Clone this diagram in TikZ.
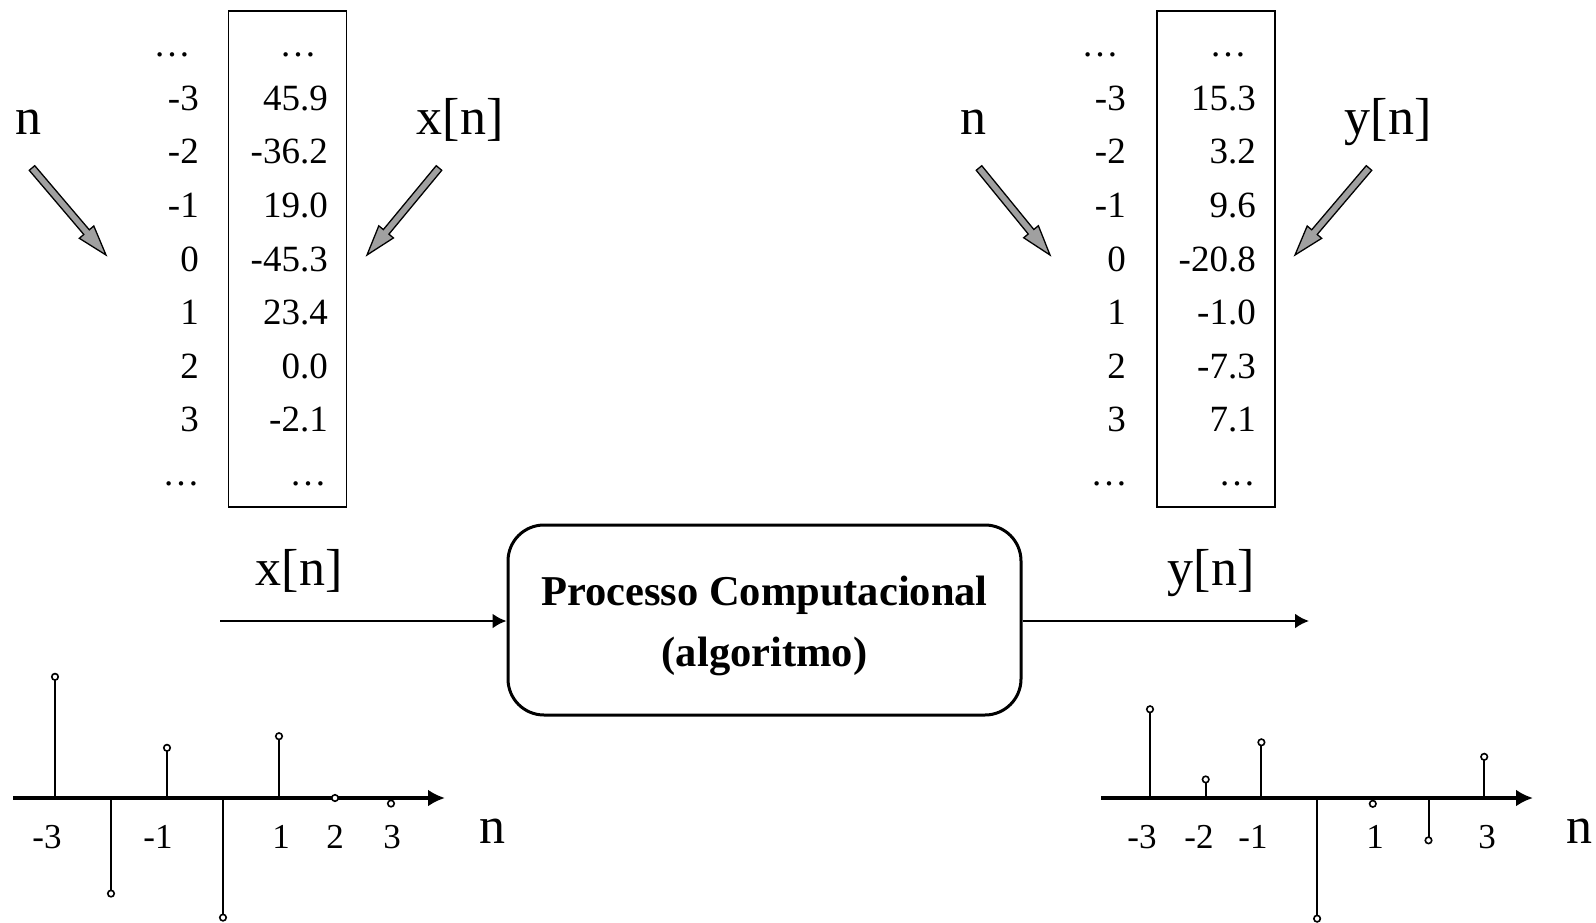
\documentclass[tikz,border=0pt]{standalone}
\usepackage{fontspec}
\setmainfont{Liberation Serif}
\usetikzlibrary{arrows.meta,calc}
\definecolor{arrgray}{RGB}{160,160,160}
\newcommand\fatarrow[2]{%
  \coordinate (#1m) at ($(#2)!30pt!(#1)$);
  \filldraw[fill=arrgray, draw=black, line width=1.3pt, line join=miter]
    ($(#1)!3.6pt!90:(#2)$) -- ($(#1m)!3.6pt!90:(#2)$) -- ($(#1m)!9.5pt!90:(#2)$)
    -- (#2) -- ($(#1m)!9.5pt!-90:(#2)$) -- ($(#1m)!3.6pt!-90:(#2)$)
    -- ($(#1)!3.6pt!-90:(#2)$) -- cycle;}
\begin{document}
\begin{tikzpicture}[x=1pt,y=-1pt,
  num/.style={font=\fontsize{37}{42}\selectfont, inner sep=0pt, anchor=base east},
  dotrow/.style={font=\fontsize{37}{42}\selectfont, inner sep=0pt, anchor=base},
  lab/.style={font=\fontsize{35}{40}\selectfont, inner sep=0pt, anchor=base},
  big/.style={font=\fontsize{52}{60}\selectfont, inner sep=0pt, anchor=base},
  tab/.style={draw, line width=1.5pt, inner sep=0pt, minimum width=118pt, minimum height=496pt},
  proc/.style={draw, line width=3pt, rounded corners=36pt, minimum width=513pt, minimum height=190pt},
  proctext/.style={align=center, inner sep=0pt, font=\bfseries\fontsize{42.5}{61}\selectfont},
  flow/.style={line width=2.5pt, -{Latex[length=14pt,width=15pt]}},
  axis/.style={line width=4pt, -{Latex[length=17pt,width=17pt]}},
  stem/.style={line width=2pt},
  sdot/.style={circle, draw, line width=1.6pt, fill=white, inner sep=0pt, minimum size=6.5pt}
]
\useasboundingbox (0,0) rectangle (1596,923);

% ---------- left table ----------
\node[tab] (xbox) at (287.5,259) {};
\node[dotrow] (xn0) at (172,57) {…};
\node[dotrow] (xv0) at (298,57) {…};
\foreach \n/\v [count=\k] in {-3/45.9,-2/-36.2,-1/19.0,0/-45.3,1/23.4,2/0.0,3/-2.1}{
  \node[num] (xn\k) at (199,{57+53.5*\k}) {\n};
  \node[num] (xv\k) at (328,{57+53.5*\k}) {\v};
}
\node[dotrow] (xn8) at (181,485) {…};
\node[dotrow] (xv8) at (308,485) {…};
\node[big] (xnlab) at (29,135) {n};
\node[big] (xxlab) at (460,135) {x[n]};
\coordinate (xa) at (32,168); \coordinate (xah) at (106,255);
\coordinate (xb) at (439,168); \coordinate (xbh) at (367,255);
\fatarrow{xa}{xah}
\fatarrow{xb}{xbh}

% ---------- right table ----------
\node[tab] (ybox) at (1216,259) {};
\node[dotrow] (yn0) at (1100,57) {…};
\node[dotrow] (yv0) at (1228,57) {…};
\foreach \n/\v [count=\k] in {-3/15.3,-2/3.2,-1/9.6,0/-20.8,1/-1.0,2/-7.3,3/7.1}{
  \node[num] (yn\k) at (1126,{57+53.5*\k}) {\n};
  \node[num] (yv\k) at (1256,{57+53.5*\k}) {\v};
}
\node[dotrow] (yn8) at (1109,485) {…};
\node[dotrow] (yv8) at (1237,485) {…};
\node[big] (ynlab) at (973,135) {n};
\node[big] (yylab) at (1388,135) {y[n]};
\coordinate (ya) at (979,168); \coordinate (yah) at (1050,255);
\coordinate (yb) at (1369,168); \coordinate (ybh) at (1295,255);
\fatarrow{ya}{yah}
\fatarrow{yb}{ybh}

% ---------- process ----------
\node[proc] (proc) at (764.5,620) {};
\node[proctext] (ptext) at (764.5,626) {Processo Computacional\\(algoritmo)};
\coordinate (in) at (220,621);
\coordinate (out) at (1309,621);
\draw[flow] (in) -- (proc.west |- in);
\draw[flow] (proc.east |- out) -- (out);
\node[big] (inlab) at (299,585) {x[n]};
\node[big] (outlab) at (1211,585) {y[n]};

% ---------- left plot ----------
\coordinate (xp0) at (13,798); \coordinate (xp1) at (445,798);
\draw[axis] (xp0) -- (xp1);
\foreach \v [count=\k from 0] in {45.9,-36.2,19.0,-45.3,23.4,0.0,-2.1}{
  \coordinate (xs\k) at ({55+56*\k},798);
  \coordinate (xt\k) at ({55+56*\k},{798-2.64*\v});
  \draw[stem] (xs\k) -- (xt\k);
  \node[sdot] (xd\k) at (xt\k) {};
}
\node[lab] (xl1) at (47,848) {-3};
\node[lab] (xl3) at (158,848) {-1};
\node[lab] (xl5) at (281,848) {1};
\node[lab] (xl6) at (335,848) {2};
\node[lab] (xl7) at (392,848) {3};
\node[big] (xnax) at (492,843) {n};

% ---------- right plot ----------
\coordinate (yp0) at (1101,798); \coordinate (yp1) at (1533,798);
\draw[axis] (yp0) -- (yp1);
\foreach \v [count=\k from 0] in {15.3,3.2,9.6,-20.8,-1.0,-7.3,7.1}{
  \coordinate (ys\k) at ({1150+55.7*\k},798);
  \coordinate (yt\k) at ({1150+55.7*\k},{798-5.8*\v});
  \draw[stem] (ys\k) -- (yt\k);
  \node[sdot] (yd\k) at (yt\k) {};
}
\node[lab] (yl1) at (1142,848) {-3};
\node[lab] (yl2) at (1199,848) {-2};
\node[lab] (yl3) at (1253,848) {-1};
\node[lab] (yl5) at (1375,848) {1};
\node[lab] (yl7) at (1487,848) {3};
\node[big] (ynax) at (1579,843) {n};
\end{tikzpicture}
\end{document}
